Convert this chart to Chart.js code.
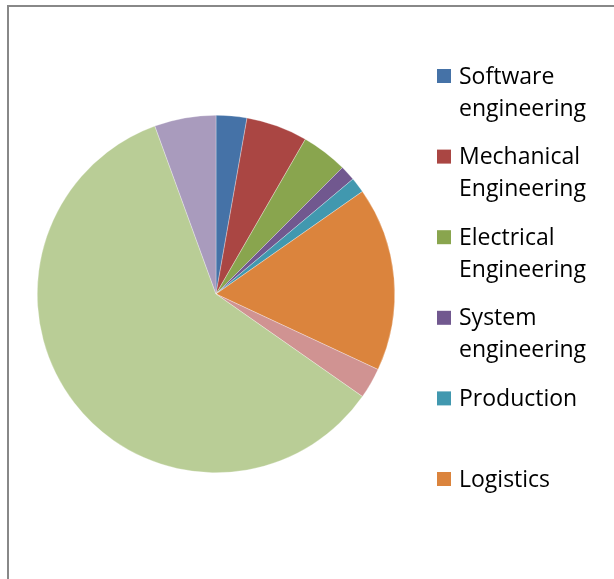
<!DOCTYPE html>
<html>
<head>
<meta charset="utf-8">
<script src="https://cdn.jsdelivr.net/npm/chart.js@4.4.1/dist/chart.umd.min.js"></script>
<style>
  html, body { margin: 0; padding: 0; background: #fff; }
  #wrap { position: relative; width: 614px; height: 579px; }
</style>
</head>
<body>
<div id="wrap">
  <canvas id="deptPie" width="614" height="579"></canvas>
</div>
<script>
// departments, in slice order (clockwise from 12 o'clock)
const departments = [
  'Software engineering',
  'Mechanical Engineering',
  'Electrical Engineering',
  'System engineering',
  'Production',
  'Logistics',
  'Quality',
  'Management',
  'Other'
];
const headcount = [2, 4, 3, 1, 1, 12, 2, 43, 4];
const sliceColors = [
  '#4572A7', '#AA4643', '#89A54E', '#71588F', '#4198AF',
  '#DB843D', '#D09392', '#B9CD96', '#A99BBD'
];

// outer frame (top and left edges only, the rest runs off the canvas)
const framePlugin = {
  id: 'frame',
  beforeDraw(chart) {
    const ctx = chart.ctx;
    ctx.save();
    ctx.strokeStyle = '#888888';
    ctx.lineWidth = 2;
    ctx.beginPath();
    ctx.moveTo(8, chart.height);
    ctx.lineTo(8, 6);
    ctx.lineTo(chart.width, 6);
    ctx.stroke();
    ctx.restore();
  }
};

// right-hand legend, one two-line slot per department, cut off at the frame bottom
const sideLegend = {
  id: 'sideLegend',
  afterDraw(chart) {
    const ctx = chart.ctx;
    const labels = chart.data.labels;
    const colors = chart.data.datasets[0].backgroundColor;
    const top = 76, step = 80.6, lineH = 32;
    ctx.save();
    ctx.font = '23px "Open Sans", sans-serif';
    ctx.textBaseline = 'middle';
    ctx.fillStyle = '#000';
    labels.forEach((label, i) => {
      const y = top + i * step;
      if (y + lineH > chart.height - 20) return;
      ctx.fillStyle = colors[i];
      ctx.fillRect(437, y - 7, 14, 14);
      ctx.fillStyle = '#000';
      label.split(' ').forEach((word, k) => {
        ctx.fillText(word, 459, y + 1 + k * lineH);
      });
    });
    ctx.restore();
  }
};

new Chart(document.getElementById('deptPie'), {
  type: 'pie',
  data: {
    labels: departments,
    datasets: [{
      data: headcount,
      backgroundColor: sliceColors,
      borderColor: 'rgba(255,255,255,0.6)',
      borderWidth: 0.5
    }]
  },
  options: {
    responsive: false,
    animation: false,
    layout: {
      padding: { left: 37, top: 115, right: 219, bottom: 106 }
    },
    plugins: {
      legend: { display: false },
      tooltip: { enabled: false }
    }
  },
  plugins: [framePlugin, sideLegend]
});
</script>
</body>
</html>
